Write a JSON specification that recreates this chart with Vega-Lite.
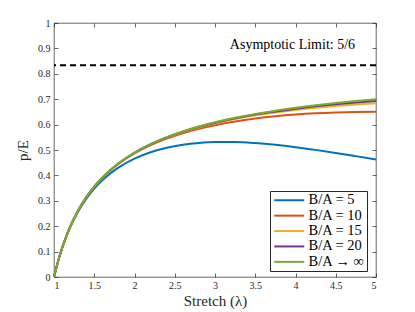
{
  "$schema": "https://vega.github.io/schema/vega-lite/v6.json",
  "autosize": "none",
  "width": 322,
  "height": 254,
  "padding": {"left": 54, "top": 23, "right": 39, "bottom": 35},
  "background": "white",
  "config": {
    "view": {"stroke": "#262626", "strokeWidth": 0.7},
    "font": "Liberation Serif",
    "axis": {
      "grid": false,
      "domain": false,
      "tickColor": "#262626",
      "tickWidth": 0.7,
      "tickSize": -4,
      "labelColor": "#262626",
      "labelFont": "Liberation Serif",
      "labelFontSize": 10,
      "titleFont": "Liberation Serif",
      "titleFontSize": 15,
      "titleFontWeight": "normal",
      "titleColor": "#262626"
    },
    "legend": {
      "orient": "none",
      "legendX": 216,
      "legendY": 168,
      "fillColor": "white",
      "strokeColor": "#262626",
      "padding": 2,
      "symbolType": "M-1,0H5",
      "symbolSize": 100,
      "symbolStrokeWidth": 2,
      "labelFont": "Liberation Serif",
      "labelFontSize": 14.5,
      "labelColor": "#000000",
      "rowPadding": 0.4,
      "labelOffset": 22,
      "cornerRadius": 0
    }
  },
  "resolve": {"axis": {"x": "independent", "y": "independent"}},
  "layer": [
    {
      "data": {"values": [{"limit": 0.83333}]},
      "mark": {"type": "rule", "color": "#000000", "strokeWidth": 2, "strokeDash": [6, 4]},
      "encoding": {
        "y": {"field": "limit", "type": "quantitative", "axis": null}
      }
    },
    {
      "data": {"values": [
        {"s":1,"p":0,"k":"B/A = 5"},{"s":1.05,"p":0.06074,"k":"B/A = 5"},{"s":1.1,"p":0.11226,"k":"B/A = 5"},{"s":1.15,"p":0.15649,"k":"B/A = 5"},{"s":1.2,"p":0.19483,"k":"B/A = 5"},{"s":1.3,"p":0.25794,"k":"B/A = 5"},{"s":1.4,"p":0.30764,"k":"B/A = 5"},{"s":1.5,"p":0.34767,"k":"B/A = 5"},{"s":1.6,"p":0.38047,"k":"B/A = 5"},{"s":1.7,"p":0.40770,"k":"B/A = 5"},{"s":1.8,"p":0.43049,"k":"B/A = 5"},{"s":2.0,"p":0.46591,"k":"B/A = 5"},{"s":2.2,"p":0.49114,"k":"B/A = 5"},{"s":2.4,"p":0.50883,"k":"B/A = 5"},{"s":2.6,"p":0.52067,"k":"B/A = 5"},{"s":2.8,"p":0.52785,"k":"B/A = 5"},{"s":3.0,"p":0.53124,"k":"B/A = 5"},{"s":3.25,"p":0.53115,"k":"B/A = 5"},{"s":3.5,"p":0.52725,"k":"B/A = 5"},{"s":3.75,"p":0.52039,"k":"B/A = 5"},{"s":4.0,"p":0.51127,"k":"B/A = 5"},{"s":4.25,"p":0.50050,"k":"B/A = 5"},{"s":4.5,"p":0.48857,"k":"B/A = 5"},{"s":4.75,"p":0.47587,"k":"B/A = 5"},{"s":5.0,"p":0.46274,"k":"B/A = 5"},
        {"s":1,"p":0,"k":"B/A = 10"},{"s":1.05,"p":0.06123,"k":"B/A = 10"},{"s":1.1,"p":0.11329,"k":"B/A = 10"},{"s":1.15,"p":0.15810,"k":"B/A = 10"},{"s":1.2,"p":0.19708,"k":"B/A = 10"},{"s":1.3,"p":0.26163,"k":"B/A = 10"},{"s":1.4,"p":0.31298,"k":"B/A = 10"},{"s":1.5,"p":0.35491,"k":"B/A = 10"},{"s":1.6,"p":0.38986,"k":"B/A = 10"},{"s":1.7,"p":0.41949,"k":"B/A = 10"},{"s":1.8,"p":0.44495,"k":"B/A = 10"},{"s":2.0,"p":0.48649,"k":"B/A = 10"},{"s":2.2,"p":0.51894,"k":"B/A = 10"},{"s":2.4,"p":0.54490,"k":"B/A = 10"},{"s":2.6,"p":0.56602,"k":"B/A = 10"},{"s":2.8,"p":0.58339,"k":"B/A = 10"},{"s":3.0,"p":0.59777,"k":"B/A = 10"},{"s":3.25,"p":0.61234,"k":"B/A = 10"},{"s":3.5,"p":0.62382,"k":"B/A = 10"},{"s":3.75,"p":0.63276,"k":"B/A = 10"},{"s":4.0,"p":0.63954,"k":"B/A = 10"},{"s":4.25,"p":0.64446,"k":"B/A = 10"},{"s":4.5,"p":0.64776,"k":"B/A = 10"},{"s":4.75,"p":0.64962,"k":"B/A = 10"},{"s":5.0,"p":0.65020,"k":"B/A = 10"},
        {"s":1,"p":0,"k":"B/A = 15"},{"s":1.05,"p":0.06127,"k":"B/A = 15"},{"s":1.1,"p":0.11339,"k":"B/A = 15"},{"s":1.15,"p":0.15826,"k":"B/A = 15"},{"s":1.2,"p":0.19731,"k":"B/A = 15"},{"s":1.3,"p":0.26200,"k":"B/A = 15"},{"s":1.4,"p":0.31353,"k":"B/A = 15"},{"s":1.5,"p":0.35565,"k":"B/A = 15"},{"s":1.6,"p":0.39083,"k":"B/A = 15"},{"s":1.7,"p":0.42071,"k":"B/A = 15"},{"s":1.8,"p":0.44645,"k":"B/A = 15"},{"s":2.0,"p":0.48866,"k":"B/A = 15"},{"s":2.2,"p":0.52192,"k":"B/A = 15"},{"s":2.4,"p":0.54885,"k":"B/A = 15"},{"s":2.6,"p":0.57110,"k":"B/A = 15"},{"s":2.8,"p":0.58978,"k":"B/A = 15"},{"s":3.0,"p":0.60565,"k":"B/A = 15"},{"s":3.25,"p":0.62236,"k":"B/A = 15"},{"s":3.5,"p":0.63630,"k":"B/A = 15"},{"s":3.75,"p":0.64800,"k":"B/A = 15"},{"s":4.0,"p":0.65786,"k":"B/A = 15"},{"s":4.25,"p":0.66618,"k":"B/A = 15"},{"s":4.5,"p":0.67319,"k":"B/A = 15"},{"s":4.75,"p":0.67907,"k":"B/A = 15"},{"s":5.0,"p":0.68393,"k":"B/A = 15"},
        {"s":1,"p":0,"k":"B/A = 20"},{"s":1.05,"p":0.06129,"k":"B/A = 20"},{"s":1.1,"p":0.11342,"k":"B/A = 20"},{"s":1.15,"p":0.15830,"k":"B/A = 20"},{"s":1.2,"p":0.19736,"k":"B/A = 20"},{"s":1.3,"p":0.26209,"k":"B/A = 20"},{"s":1.4,"p":0.31366,"k":"B/A = 20"},{"s":1.5,"p":0.35583,"k":"B/A = 20"},{"s":1.6,"p":0.39106,"k":"B/A = 20"},{"s":1.7,"p":0.42100,"k":"B/A = 20"},{"s":1.8,"p":0.44682,"k":"B/A = 20"},{"s":2.0,"p":0.48919,"k":"B/A = 20"},{"s":2.2,"p":0.52265,"k":"B/A = 20"},{"s":2.4,"p":0.54982,"k":"B/A = 20"},{"s":2.6,"p":0.57236,"k":"B/A = 20"},{"s":2.8,"p":0.59136,"k":"B/A = 20"},{"s":3.0,"p":0.60761,"k":"B/A = 20"},{"s":3.25,"p":0.62487,"k":"B/A = 20"},{"s":3.5,"p":0.63943,"k":"B/A = 20"},{"s":3.75,"p":0.65186,"k":"B/A = 20"},{"s":4.0,"p":0.66254,"k":"B/A = 20"},{"s":4.25,"p":0.67179,"k":"B/A = 20"},{"s":4.5,"p":0.67982,"k":"B/A = 20"},{"s":4.75,"p":0.68683,"k":"B/A = 20"},{"s":5.0,"p":0.69294,"k":"B/A = 20"},
        {"s":1,"p":0,"k":"B/A → ∞"},{"s":1.05,"p":0.06130,"k":"B/A → ∞"},{"s":1.1,"p":0.11344,"k":"B/A → ∞"},{"s":1.15,"p":0.15833,"k":"B/A → ∞"},{"s":1.2,"p":0.19740,"k":"B/A → ∞"},{"s":1.3,"p":0.26216,"k":"B/A → ∞"},{"s":1.4,"p":0.31376,"k":"B/A → ∞"},{"s":1.5,"p":0.35597,"k":"B/A → ∞"},{"s":1.6,"p":0.39124,"k":"B/A → ∞"},{"s":1.7,"p":0.42122,"k":"B/A → ∞"},{"s":1.8,"p":0.44709,"k":"B/A → ∞"},{"s":2.0,"p":0.48958,"k":"B/A → ∞"},{"s":2.2,"p":0.52319,"k":"B/A → ∞"},{"s":2.4,"p":0.55053,"k":"B/A → ∞"},{"s":2.6,"p":0.57328,"k":"B/A → ∞"},{"s":2.8,"p":0.59253,"k":"B/A → ∞"},{"s":3.0,"p":0.60905,"k":"B/A → ∞"},{"s":3.25,"p":0.62671,"k":"B/A → ∞"},{"s":3.5,"p":0.64175,"k":"B/A → ∞"},{"s":3.75,"p":0.65471,"k":"B/A → ∞"},{"s":4.0,"p":0.66602,"k":"B/A → ∞"},{"s":4.25,"p":0.67596,"k":"B/A → ∞"},{"s":4.5,"p":0.68478,"k":"B/A → ∞"},{"s":4.75,"p":0.69266,"k":"B/A → ∞"},{"s":5.0,"p":0.69973,"k":"B/A → ∞"}
      ]},
      "layer": [
        {
          "mark": {"type": "line", "strokeWidth": 2, "interpolate": "monotone"},
          "encoding": {
            "x": {"field": "s", "type": "quantitative", "scale": {"domain": [1, 5], "nice": false},
                  "axis": {"orient": "bottom", "values": [1,1.5,2,2.5,3,3.5,4,4.5,5], "format": "~g", "title": "Stretch (λ)", "titlePadding": 3, "labelPadding": 7}},
            "y": {"field": "p", "type": "quantitative", "scale": {"domain": [0, 1], "nice": false},
                  "axis": {"orient": "left", "values": [0,0.1,0.2,0.3,0.4,0.5,0.6,0.7,0.8,0.9,1], "format": "~g", "title": "p/E", "titlePadding": 7, "labelPadding": 8}},
            "color": {"field": "k", "type": "nominal",
                      "scale": {"domain": ["B/A = 5","B/A = 10","B/A = 15","B/A = 20","B/A → ∞"],
                                "range": ["#0072BD","#D95319","#EDB120","#7E2F8E","#77AC30"]},
                      "legend": {"title": null}}
          }
        },
        {
          "mark": {"type": "point", "opacity": 0},
          "encoding": {
            "x": {"field": "s", "type": "quantitative", "axis": {"orient": "top", "values": [1,1.5,2,2.5,3,3.5,4,4.5,5], "labels": false, "title": null}},
            "y": {"field": "p", "type": "quantitative", "axis": {"orient": "right", "values": [0,0.1,0.2,0.3,0.4,0.5,0.6,0.7,0.8,0.9,1], "labels": false, "title": null}}
          }
        }
      ]
    },
    {
      "data": {"values": [{"s": 4.74, "p": 0.913, "label": "Asymptotic Limit: 5/6"}]},
      "mark": {"type": "text", "align": "right", "baseline": "middle", "font": "Liberation Serif", "fontSize": 14, "color": "#000000"},
      "encoding": {
        "x": {"field": "s", "type": "quantitative", "axis": null},
        "y": {"field": "p", "type": "quantitative", "axis": null},
        "text": {"field": "label"}
      }
    }
  ]
}
